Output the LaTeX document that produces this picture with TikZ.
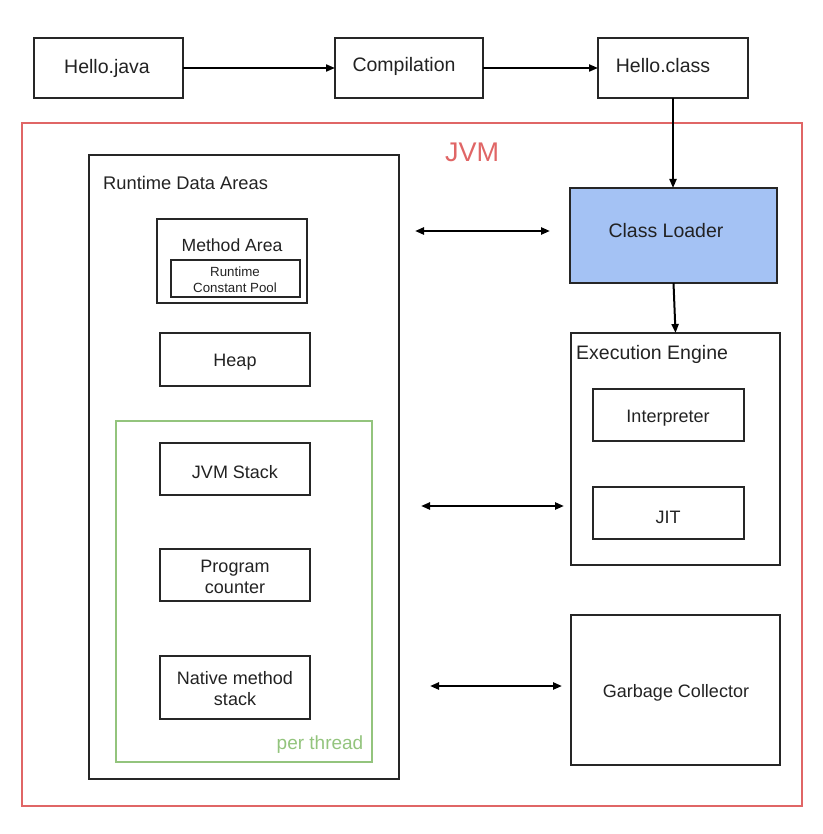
\documentclass[tikz,border=0pt]{standalone}
\usepackage{fontspec}
\setmainfont{Liberation Sans}
\usetikzlibrary{arrows.meta}
\definecolor{jvmred}{HTML}{E06666}
\definecolor{thgreen}{HTML}{93C47D}
\definecolor{clblue}{HTML}{A4C2F4}
\definecolor{txt}{HTML}{222222}
\tikzset{
  box/.style={draw=black!85, line width=1.3pt, inner sep=0pt, outer sep=0pt},
  lbl/.style={inner sep=0pt, text=txt, font=\fontsize{18}{21}\selectfont, align=center},
  biglbl/.style={inner sep=0pt, text=txt, font=\fontsize{19.5}{23}\selectfont, align=center},
  smlbl/.style={inner sep=0pt, text=txt, font=\fontsize{13.3}{16}\selectfont, align=center},
  flow/.style={line width=2pt, -{Triangle[length=9pt,width=7pt]}},
  both/.style={line width=2.5pt, {Triangle[length=9pt,width=7pt]}-{Triangle[length=9pt,width=7pt]}}
}
\newcommand\bx[6]{\node[box,#6, minimum width={(#4-#2)*1pt}, minimum height={(#5-#3)*1pt}] (#1) at ({(#2+#4)/2},{(#3+#5)/2}) {};}
\begin{document}
\begin{tikzpicture}[x=1pt,y=-1pt]
\useasboundingbox (0,0) rectangle (822,834);
% top row
\bx{java}{34}{38}{183}{98}{}
\bx{comp}{335}{38}{483}{98}{}
\bx{cls}{598}{38}{748}{98}{}
\node[biglbl] (tjava) at (107,68) {Hello.java};
\node[biglbl] (tcomp) at (404,66) {Compilation};
\node[biglbl] (tcls) at (663,66) {Hello.class};
% JVM
\bx{jvm}{22}{123}{802}{806}{draw=jvmred}
\node[inner sep=0pt, text=jvmred, font=\fontsize{27}{30}\selectfont] (tjvm) at (472,152) {JVM};
% runtime data areas
\bx{rda}{89}{155}{399}{779}{}
\node[biglbl, anchor=west, font=\fontsize{18.3}{21}\selectfont] (trda) at (103,183) {Runtime Data Areas};
\bx{ma}{157}{219}{307}{303}{}
\node[lbl, font=\fontsize{17.6}{21}\selectfont] (tma) at (232,245) {Method Area};
\bx{rcp}{171}{260}{300}{297}{}
\node[smlbl] (trcp) at (235,280) {Runtime\\Constant Pool};
\bx{heap}{160}{333}{310}{386}{}
\node[lbl] (theap) at (235,362) {Heap};
\bx{thread}{116}{421}{372}{762}{draw=thgreen}
\node[inner sep=0pt, text=thgreen, font=\fontsize{19}{22}\selectfont] (tthread) at (320,745) {per thread};
\bx{stack}{160}{443}{310}{495}{}
\node[lbl] (tstack) at (235,472) {JVM Stack};
\bx{pc}{160}{549}{310}{601}{}
\node[lbl, font=\fontsize{18}{21}\selectfont] (tpc) at (235,577) {Program\\counter};
\bx{nms}{160}{656}{310}{719}{}
\node[lbl, font=\fontsize{18}{21}\selectfont] (tnms) at (235,689) {Native method\\stack};
% right column
\bx{cl}{570}{188}{777}{283}{fill=clblue}
\node[biglbl] (tcl) at (666,231) {Class Loader};
\bx{ee}{571}{333}{780}{565}{}
\node[biglbl, anchor=west] (tee) at (576,354) {Execution Engine};
\bx{interp}{593}{389}{744}{441}{}
\node[lbl] (tinterp) at (668,418) {Interpreter};
\bx{jit}{593}{487}{744}{539}{}
\node[lbl] (tjit) at (668,517) {JIT};
\bx{gc}{571}{615}{780}{765}{}
\node[lbl] (tgc) at (676,693) {Garbage Collector};
% flow arrows
\draw[flow] (java.east) -- (comp.west);
\draw[flow] (comp.east) -- (cls.west);
\draw[flow] (cls.south) -- (cls.south |- cl.north);
\draw[flow] (cl.south) -- (ee.north);
% double arrows
\coordinate (a1) at (415,231); \coordinate (b1) at (550,231);
\coordinate (a2) at (421,506); \coordinate (b2) at (564,506);
\coordinate (a3) at (430,686); \coordinate (b3) at (562,686);
\draw[both] (a1) -- (b1);
\draw[both] (a2) -- (b2);
\draw[both] (a3) -- (b3);
\end{tikzpicture}
\end{document}
